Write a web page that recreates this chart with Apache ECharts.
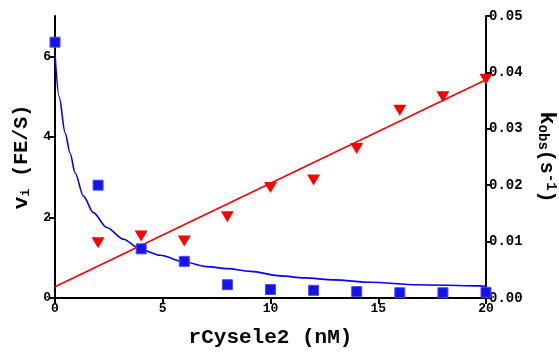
<!DOCTYPE html>
<html>
<head>
<meta charset="utf-8">
<script src="https://cdn.jsdelivr.net/npm/echarts@6/dist/echarts.min.js"></script>
<style>
  html, body { margin: 0; padding: 0; background: #ffffff; }
  #chart { width: 559px; height: 352px; }
</style>
</head>
<body>
<div id="chart"></div>
<script>
// rCysele2 concentrations (nM) at which rates were measured
const concentrations = [0, 2, 4, 6, 8, 10, 12, 14, 16, 18, 20];
// initial velocity v_i (FE/S), left axis
const viValues = [6.35, 2.80, 1.22, 0.91, 0.33, 0.21, 0.19, 0.16, 0.13, 0.13, 0.14];
// observed rate constant k_obs (s^-1), right axis
const kobsValues = [null, 0.0098, 0.0110, 0.0101, 0.0144, 0.0196, 0.0209, 0.0265, 0.0333, 0.0357, 0.0388];

// fitted decay curve for v_i
const viFitX = [0, 0.19, 0.47, 0.70, 0.93, 1.32, 1.78, 2.40, 3.18, 3.95, 4.88, 5.97, 7.05, 7.99, 9.07, 10.47, 11.55, 12.95, 14.65, 16.8, 19.6, 20];
const viFitY = [6.05, 5.00, 4.10, 3.60, 3.11, 2.53, 2.12, 1.75, 1.46, 1.21, 1.06, 0.90, 0.78, 0.73, 0.66, 0.55, 0.50, 0.45, 0.39, 0.33, 0.30, 0.29];

// linear fit for k_obs
const kobsFitX = [0, 20];
const kobsFitY = [0.0020, 0.0387];

// axis ticks
const xTicks = [0, 5, 10, 15, 20];
const leftTicks = [0, 2, 4, 6];
const rightTicks = [0, 0.01, 0.02, 0.03, 0.04, 0.05];

const zip = (xs, ys) => xs.map((x, i) => [x, ys[i]]).filter(p => p[1] !== null);

const FONT = "'Liberation Mono', 'DejaVu Sans Mono', monospace";
const axisLine = { show: true, onZero: false, lineStyle: { color: '#000', width: 2 } };
const axisTick = { show: true, length: 6, lineStyle: { color: '#000', width: 2 } };
const tickLabel = { color: '#000', fontFamily: FONT, fontWeight: 'bold', fontSize: 13 };

const chart = echarts.init(document.getElementById('chart'), null, { renderer: 'canvas' });
chart.setOption({
  backgroundColor: '#ffffff',
  animation: false,
  grid: { left: 55, right: 73, top: 16, bottom: 54, containLabel: false, outerBoundsMode: 'none' },
  xAxis: {
    type: 'value',
    min: 0, max: 20, interval: 5,
    name: 'rCysele2 (nM)',
    nameLocation: 'middle',
    nameGap: 29,
    nameTextStyle: { color: '#000', fontFamily: FONT, fontWeight: 'bold', fontSize: 21 },
    axisLine: axisLine,
    axisTick: Object.assign({ customValues: xTicks }, axisTick),
    axisLabel: Object.assign({ margin: 4, customValues: xTicks }, tickLabel),
    splitLine: { show: false }
  },
  yAxis: [
    {
      type: 'value',
      position: 'left',
      min: 0, max: 7, interval: 1,
      name: '{v|v}{sub|i} {n|(FE/S)}',
      nameLocation: 'middle',
      nameGap: 22,
      nameRotate: 90,
      nameTextStyle: {
        color: '#000', fontFamily: FONT, fontWeight: 'bold', fontSize: 20,
        rich: {
          v: { fontFamily: FONT, fontWeight: 'bold', fontSize: 21, color: '#000', verticalAlign: 'bottom' },
          sub: { fontFamily: FONT, fontWeight: 'bold', fontSize: 13, color: '#000', verticalAlign: 'bottom' },
          n: { fontFamily: FONT, fontWeight: 'bold', fontSize: 20, color: '#000', verticalAlign: 'bottom' }
        }
      },
      axisLine: axisLine,
      axisTick: Object.assign({ customValues: leftTicks }, axisTick),
      axisLabel: Object.assign({
        margin: 4,
        customValues: leftTicks,
        formatter: v => (leftTicks.indexOf(v) >= 0 ? String(v) : '')
      }, tickLabel),
      splitLine: { show: false }
    },
    {
      type: 'value',
      position: 'right',
      min: 0, max: 0.05, interval: 0.01,
      name: '{k|k}{sub|obs}{n|(s}{sup|-1}{n|)}',
      nameLocation: 'middle',
      nameGap: 50,
      nameRotate: -90,
      nameTextStyle: {
        color: '#000', fontFamily: FONT, fontWeight: 'bold', fontSize: 20,
        rich: {
          k: { fontFamily: FONT, fontWeight: 'bold', fontSize: 22, color: '#000', verticalAlign: 'bottom' },
          sub: { fontFamily: FONT, fontWeight: 'bold', fontSize: 14, color: '#000', verticalAlign: 'bottom' },
          sup: { fontFamily: FONT, fontWeight: 'bold', fontSize: 14, color: '#000', verticalAlign: 'top' },
          n: { fontFamily: FONT, fontWeight: 'bold', fontSize: 20, color: '#000', verticalAlign: 'bottom' }
        }
      },
      axisLine: axisLine,
      axisTick: Object.assign({ customValues: rightTicks }, axisTick),
      axisLabel: Object.assign({
        margin: 3,
        customValues: rightTicks,
        formatter: v => v.toFixed(2)
      }, tickLabel, { fontSize: 14 }),
      splitLine: { show: false }
    }
  ],
  series: [
    {
      name: 'v_i fit',
      type: 'line',
      yAxisIndex: 0,
      data: zip(viFitX, viFitY),
      showSymbol: false,
      smooth: 0.3,
      smoothMonotone: 'x',
      lineStyle: { color: '#0000ff', width: 1.6 },
      z: 2
    },
    {
      name: 'k_obs fit',
      type: 'line',
      yAxisIndex: 1,
      data: zip(kobsFitX, kobsFitY),
      showSymbol: false,
      lineStyle: { color: '#ff0000', width: 1.6 },
      z: 2
    },
    {
      name: 'v_i',
      type: 'scatter',
      yAxisIndex: 0,
      data: zip(concentrations, viValues),
      symbol: 'rect',
      symbolSize: 10,
      itemStyle: { color: '#1414e8', borderColor: '#4a4aff', borderWidth: 1, opacity: 1 },
      z: 3
    },
    {
      name: 'k_obs',
      type: 'scatter',
      yAxisIndex: 1,
      data: zip(concentrations, kobsValues),
      symbol: 'triangle',
      symbolRotate: 180,
      symbolSize: [13, 11],
      itemStyle: { color: '#ff0000', opacity: 1 },
      z: 3
    }
  ]
});
</script>
</body>
</html>
